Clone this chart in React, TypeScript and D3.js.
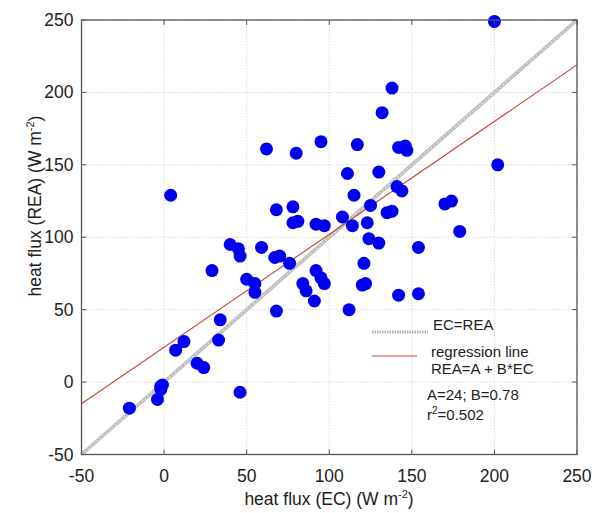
import React from "react";
import * as d3 from "d3";

const ecValues = [-21, -4, -2, -1, -2, 7, 12, 20, 24, 34, 33, 46, 62, 80, 4, 68, 78, 78, 81, 40, 45, 46, 59, 67, 70, 76, 29, 50, 55, 55, 84, 86, 91, 92, 95, 97, 68, 138, 132, 95, 117, 142, 146, 147, 202, 111, 130, 115, 141, 144, 125, 170, 174, 135, 138, 108, 114, 123, 92, 97, 124, 130, 179, 154, 121, 112, 120, 122, 142, 154, 200];
const reaValues = [-18, -12, -5, -2, -3, 22, 28, 13, 10, 43, 29, -7, 161, 158, 129, 119, 121, 110, 111, 95, 92, 87, 93, 86, 87, 82, 77, 71, 68, 62, 68, 63, 56, 77, 72, 68, 49, 203, 186, 166, 164, 162, 163, 160, 150, 144, 145, 129, 135, 132, 122, 123, 125, 117, 118, 114, 108, 110, 109, 108, 99, 96, 104, 93, 82, 50, 67, 68, 60, 61, 249];
const tickValues = [-50, 0, 50, 100, 150, 200, 250];
const regA = 24;
const regB = 0.78;
const legendLabels = ["EC=REA", "regression line", "REA=A + B*EC", "A=24; B=0.78", "=0.502"];

export default function App() {
  const left = 81.5, right = 577, top = 20, bottom = 454.5;
  const x = d3.scaleLinear().domain([-50, 250]).range([left, right]);
  const y = d3.scaleLinear().domain([-50, 250]).range([bottom, top]);
  const font = "'Liberation Sans', Arial, sans-serif";
  const line = d3.line<number>().x((d) => x(d)).y((d) => y(d));
  const regLine = d3.line<number>().x((d) => x(d)).y((d) => y(regA + regB * d));
  const dom = [-50, 250];
  return (
    <svg width={595} height={513} style={{ position: "absolute", left: 0, top: 0 }} fontFamily={font}>
      <rect x={0} y={0} width={595} height={513} fill="#fff" />
      {tickValues.map((t) => (
        <g key={"g" + t}>
          <line x1={x(t)} x2={x(t)} y1={top} y2={bottom} stroke="#d8d8d8" strokeWidth={1} strokeDasharray="1.5,1.5" />
          <line x1={left} x2={right} y1={y(t)} y2={y(t)} stroke="#d8d8d8" strokeWidth={1} strokeDasharray="1.5,1.5" />
        </g>
      ))}
      {/* EC = REA */}
      <path d={line(dom) || ""} stroke="#bdbdbd" strokeWidth={3.6} fill="none" />
      <path d={line(dom) || ""} stroke="#e6e6e6" strokeWidth={1.1} strokeDasharray="2,2" fill="none" />
      {/* regression */}
      <path d={regLine(dom) || ""} stroke="#c8403a" strokeWidth={1.1} fill="none" />
      {ecValues.map((v, i) => (
        <circle key={i} cx={x(v)} cy={y(reaValues[i])} r={6.5} fill="#0000f0" />
      ))}
      <rect x={left} y={top} width={right - left} height={bottom - top} fill="none" stroke="#555" strokeWidth={1.3} />
      {tickValues.map((t) => (
        <g key={"t" + t}>
          <line x1={x(t)} x2={x(t)} y1={bottom} y2={bottom - 5} stroke="#555" />
          <line x1={x(t)} x2={x(t)} y1={top} y2={top + 5} stroke="#555" />
          <line x1={left} x2={left + 5} y1={y(t)} y2={y(t)} stroke="#555" />
          <line x1={right} x2={right - 5} y1={y(t)} y2={y(t)} stroke="#555" />
          <text x={x(t)} y={bottom + 27} textAnchor="middle" fontSize={17.5} fill="#222">{t}</text>
          <text x={left - 8} y={y(t) + 6} textAnchor="end" fontSize={17.5} fill="#222">{t}</text>
        </g>
      ))}
      <text x={329} y={505} textAnchor="middle" fontSize={17.5} fill="#222">
        heat flux (EC) (W m<tspan dy={-7} fontSize={11}>-2</tspan><tspan dy={7}>)</tspan>
      </text>
      <text transform="translate(41,206) rotate(-90)" textAnchor="middle" fontSize={17.5} fill="#222">
        heat flux (REA) (W m<tspan dy={-7} fontSize={11}>-2</tspan><tspan dy={7}>)</tspan>
      </text>
      {/* legend */}
      <line x1={372} x2={428} y1={332} y2={332} stroke="#b0b0b0" strokeWidth={3} strokeDasharray="1.5,1" />
      <text x={433} y={330} fontSize={15} fill="#222">{legendLabels[0]}</text>
      <line x1={372} x2={417} y1={356} y2={356} stroke="#c8403a" strokeWidth={1.2} />
      <text x={431} y={357} fontSize={15} fill="#222">{legendLabels[1]}</text>
      <text x={431} y={374} fontSize={15} fill="#222">{legendLabels[2]}</text>
      <text x={427} y={400} fontSize={15} fill="#222">{legendLabels[3]}</text>
      <text x={427} y={420} fontSize={15} fill="#222">r<tspan dy={-6} fontSize={10}>2</tspan><tspan dy={6}>{legendLabels[4]}</tspan></text>
    </svg>
  );
}
